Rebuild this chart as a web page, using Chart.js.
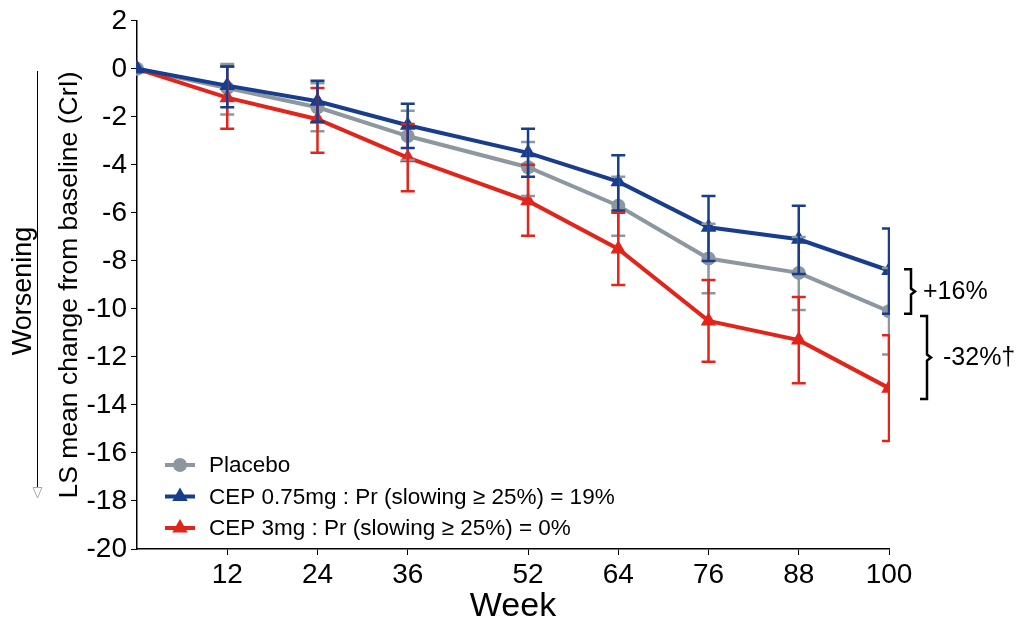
<!DOCTYPE html>
<html>
<head>
<meta charset="utf-8">
<script src="https://cdn.jsdelivr.net/npm/chart.js@4.4.1/dist/chart.umd.min.js"></script>
<style>
  body { margin: 0; background: #fff; }
  canvas { display: block; }
</style>
</head>
<body>
<canvas id="grafico" width="1020" height="627"></canvas>
<script>
const weeks = [0, 12, 24, 36, 52, 64, 76, 88, 100];
const weekTicks = [12, 24, 36, 52, 64, 76, 88, 100];
const yTicks = [2, 0, -2, -4, -6, -8, -10, -12, -14, -16, -18, -20];

const placebo      = [0, -0.8, -1.6, -2.8, -4.1, -5.7, -7.9, -8.5, -10.1];
const placeboHigh  = [null, 0.2, -0.6, -1.75, -3.05, -4.5, -6.45, -7.0, -8.3];
const placeboLow   = [null, -1.9, -2.6, -3.8, -5.3, -6.95, -9.35, -10.05, -11.9];

const cep075       = [0, -0.7, -1.35, -2.35, -3.5, -4.7, -6.6, -7.1, -8.4];
const cep075High   = [null, 0.1, -0.5, -1.45, -2.5, -3.6, -5.3, -5.7, -6.65];
const cep075Low    = [null, -1.6, -2.2, -3.3, -4.5, -5.9, -8.0, -8.55, -10.2];

const cep3         = [0, -1.2, -2.1, -3.7, -5.5, -7.5, -10.5, -11.3, -13.3];
const cep3High     = [null, 0.1, -0.8, -2.3, -4.0, -6.0, -8.8, -9.5, -11.1];
const cep3Low      = [null, -2.5, -3.5, -5.1, -6.95, -9.0, -12.2, -13.1, -15.5];

const legendLabels = [
  'Placebo',
  'CEP 0.75mg : Pr (slowing \u2265 25%) = 19%',
  'CEP 3mg : Pr (slowing \u2265 25%) = 0%'
];
// brackets at week 100: [from, to, label]
const brackets = [
  [-8.35, -10.2, '+16%'],
  [-10.3, -13.75, '-32%\u2020']
];

const GRAY = '#8C979F', BLUE = '#173D8C', RED = '#E1251B';
Chart.defaults.font.family = "'Liberation Sans', Arial, sans-serif";
Chart.defaults.color = '#000';

const pts = arr => weeks.map((w, i) => ({ x: w, y: arr[i] }));

const errorBars = {
  id: 'errorBars',
  afterDatasetsDraw(chart) {
    const { ctx, chartArea: a, scales: { x, y } } = chart;
    const sets = [[GRAY, placeboHigh, placeboLow], [RED, cep3High, cep3Low], [BLUE, cep075High, cep075Low]];
    ctx.save();
    ctx.beginPath();
    ctx.rect(a.left - 1, 0, a.right - a.left + 2, chart.height);
    ctx.clip();
    ctx.lineWidth = 2.5;
    sets.forEach(([col, hi, lo]) => {
      ctx.strokeStyle = col;
      weeks.forEach((w, i) => {
        if (hi[i] == null) return;
        const px = x.getPixelForValue(w);
        const y1 = y.getPixelForValue(hi[i]), y2 = y.getPixelForValue(lo[i]);
        ctx.beginPath();
        ctx.moveTo(px, y1); ctx.lineTo(px, y2);
        ctx.moveTo(px - 7, y1); ctx.lineTo(px + 7, y1);
        ctx.moveTo(px - 7, y2); ctx.lineTo(px + 7, y2);
        ctx.stroke();
      });
    });
    ctx.restore();
  }
};

const extras = {
  id: 'extras',
  afterDraw(chart) {
    const { ctx, chartArea: a, scales: { y } } = chart;
    ctx.save();
    // brackets
    ctx.strokeStyle = '#000';
    ctx.lineWidth = 2.5;
    ctx.font = "25px 'Liberation Sans', Arial, sans-serif";
    ctx.fillStyle = '#000';
    ctx.textBaseline = 'middle';
    brackets.forEach(([v1, v2, txt], k) => {
      const bx = a.right + 22 + k * 16;
      const y1 = y.getPixelForValue(v1), y2 = y.getPixelForValue(v2), ym = (y1 + y2) / 2;
      ctx.beginPath();
      ctx.moveTo(bx - 7, y1); ctx.lineTo(bx, y1); ctx.lineTo(bx, ym - 3);
      ctx.lineTo(bx + 4, ym); ctx.lineTo(bx, ym + 3); ctx.lineTo(bx, y2); ctx.lineTo(bx - 7, y2);
      ctx.stroke();
      ctx.fillText(txt, bx + 12 + k * 4, ym + 1);
    });

    // legend
    const rows = [[GRAY, 'circle', 7], [BLUE, 'triangle', 9], [RED, 'triangle', 9]];
    ctx.font = "22.5px 'Liberation Sans', Arial, sans-serif";
    rows.forEach(([col, style, r], i) => {
      const ly = 465 + i * 31.5;
      ctx.strokeStyle = col;
      ctx.fillStyle = col;
      ctx.lineWidth = 4;
      ctx.beginPath();
      ctx.moveTo(165, ly); ctx.lineTo(195, ly);
      ctx.stroke();
      Chart.helpers.drawPoint(ctx, { pointStyle: style, radius: r, borderWidth: 0 }, 180, ly);
      ctx.fillStyle = '#000';
      ctx.fillText(legendLabels[i], 209, ly + 1);
    });

    // worsening arrow
    ctx.strokeStyle = '#000';
    ctx.lineWidth = 1;
    ctx.beginPath();
    ctx.moveTo(37.5, 71); ctx.lineTo(37.5, 487);
    ctx.stroke();
    ctx.strokeStyle = '#aaa';
    ctx.beginPath();
    ctx.moveTo(33, 487.5); ctx.lineTo(42, 487.5); ctx.lineTo(37.5, 498); ctx.closePath();
    ctx.stroke();
    ctx.translate(24, 291);
    ctx.rotate(-Math.PI / 2);
    ctx.textAlign = 'center';
    ctx.fillStyle = '#000';
    ctx.font = "27px 'Liberation Sans', Arial, sans-serif";
    ctx.fillText('Worsening', 0, 0);
    ctx.restore();
  }
};

const ds = (label, arr, col, style, r, ord) => ({
  label, data: pts(arr), borderColor: col, backgroundColor: col,
  borderWidth: 4, tension: 0, pointStyle: style, pointRadius: r,
  pointBorderWidth: 0, order: ord, clip: { left: 1, right: 1, top: false, bottom: false }
});

new Chart(document.getElementById('grafico'), {
  type: 'line',
  data: {
    datasets: [
      ds(legendLabels[0], placebo, GRAY, 'circle', 7, 3),
      ds(legendLabels[1], cep075, BLUE, 'triangle', 9, 1),
      ds(legendLabels[2], cep3, RED, 'triangle', 9, 2)
    ]
  },
  options: {
    responsive: false,
    animation: false,
    layout: { padding: { left: 0, top: 19, right: 131, bottom: 0 } },
    plugins: { legend: { display: false }, tooltip: { enabled: false } },
    scales: {
      x: {
        type: 'linear', min: 0, max: 100,
        afterBuildTicks: s => { s.ticks = weekTicks.map(v => ({ value: v })); },
        afterFit: s => { s.height = 78; },
        ticks: { font: { size: 28 }, padding: 3, maxRotation: 0, autoSkip: false },
        grid: { drawOnChartArea: false, tickLength: 6, color: '#000', lineWidth: 1 },
        border: { color: '#000', width: 1.5 },
        title: { display: true, text: 'Week', font: { size: 34, lineHeight: 1.2 }, padding: { top: 0, bottom: 0 } }
      },
      y: {
        min: -20, max: 2,
        afterBuildTicks: s => { s.ticks = yTicks.map(v => ({ value: v })); },
        afterFit: s => { s.width = 137; },
        ticks: { font: { size: 28 }, padding: 4 },
        grid: { drawOnChartArea: false, tickLength: 6, color: '#000', lineWidth: 1 },
        border: { color: '#000', width: 1.5 },
        title: { display: true, text: 'LS mean change from baseline (CrI)', font: { size: 26.5, lineHeight: 1.2 }, padding: { top: 54, bottom: 0 } }
      }
    }
  },
  plugins: [errorBars, extras]
});
</script>
</body>
</html>
